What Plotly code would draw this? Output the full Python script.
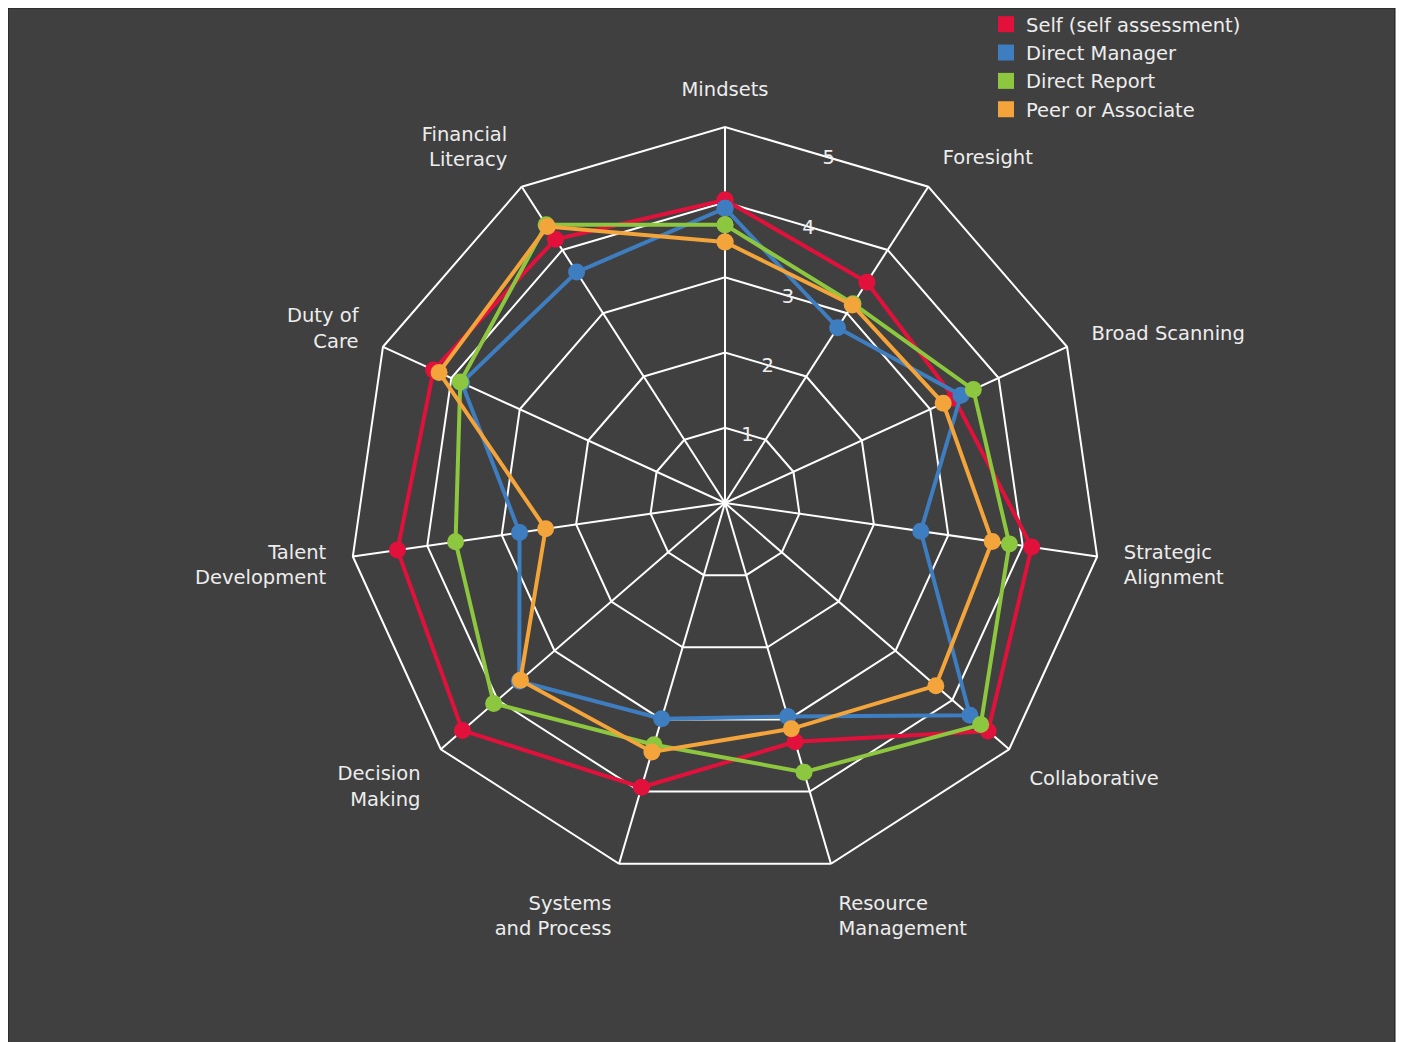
import math
import plotly.graph_objects as go

categories = ["Mindsets", "Foresight", "Broad Scanning", "Strategic Alignment", "Collaborative",
              "Resource Management", "Systems and Process", "Decision Making",
              "Talent Development", "Duty of Care", "Financial Literacy"]
tick_labels = ["Mindsets", "Foresight", "Broad Scanning", "Strategic<br>Alignment", "Collaborative",
               "Resource<br>Management", "Systems<br>and Process", "Decision<br>Making",
               "Talent<br>Development", "Duty of<br>Care", "Financial<br>Literacy"]

self_assessment = [4.03, 3.49, 3.35, 4.12, 4.63, 3.31, 3.94, 4.62, 4.40, 4.26, 4.17]
direct_manager = [3.92, 2.77, 3.45, 2.63, 4.31, 2.96, 2.99, 3.62, 2.76, 3.85, 3.65]
direct_report = [3.70, 3.15, 3.63, 3.82, 4.50, 3.73, 3.35, 4.07, 3.62, 3.87, 4.40]
peer_associate = [3.47, 3.13, 3.19, 3.59, 3.71, 3.13, 3.45, 3.60, 2.41, 4.18, 4.37]

series_names = ["Self (self assessment)", "Direct Manager", "Direct Report", "Peer or Associate"]
series_values = [self_assessment, direct_manager, direct_report, peer_associate]
colors = ["#E2113C", "#3E7EC0", "#8DC63F", "#F3A43B"]

radial_ticks = [1, 2, 3, 4, 5]
r_max = 5

BG = "#404040"
TXT = "#EDEDED"
FONT = "DejaVu Sans"
FS = 19.5

W, H = 1396, 1034
cx, cy, R = 717, 495, 376  # centre/radius in figure pixels

n = len(categories)
half_step = 180.0 / n
label_angle = 90 - half_step          # radial tick labels sit midway between first two spokes
r_scale = r_max / math.cos(math.radians(half_step))

fig = go.Figure()
for name, vals, col in zip(series_names, series_values, colors):
    fig.add_trace(go.Scatterpolar(
        r=vals + vals[:1], theta=categories + categories[:1],
        mode="lines+markers", name=name, showlegend=False,
        line=dict(color=col, width=4),
        marker=dict(color=col, size=17),
        hoverinfo="r+theta+name",
    ))
for name, col in zip(series_names, colors):
    fig.add_trace(go.Scatterpolar(
        r=[None], theta=[categories[0]], mode="markers", name=name,
        marker=dict(color=col, symbol="square", size=16),
        showlegend=True,
    ))
# helper subplot carrying the radial tick labels only
fig.add_trace(go.Scatterpolar(r=[0], theta=[0], mode="markers", subplot="polar2",
                              marker=dict(size=1, color="rgba(0,0,0,0)"),
                              showlegend=False, hoverinfo="skip"))

fig.add_shape(type="rect", xref="paper", yref="paper", x0=0, x1=1387/W,
              y0=-0.02, y1=1.0, fillcolor=BG, line=dict(color="#1a1a1a", width=1),
              layer="below")

dom_x = [(cx - R) / W, (cx + R) / W]
dom_y = [(H - cy - R) / H, (H - cy + R) / H]
# label subplot nudged so that the numbers sit on the ring edges
dx_lab, dy_lab = -14, 5
dom2_x = [(cx - R + dx_lab) / W, (cx + R + dx_lab) / W]
dom2_y = [(H - cy - R + dy_lab) / H, (H - cy + R + dy_lab) / H]

fig.update_layout(
    width=W, height=H,
    paper_bgcolor="white",
    margin=dict(l=0, r=0, t=0, b=0, autoexpand=False),
    font=dict(family=FONT, color=TXT, size=FS),
    polar=dict(
        bgcolor=BG,
        gridshape="linear",
        domain=dict(x=dom_x, y=dom_y),
        radialaxis=dict(
            range=[0, r_max], tickvals=radial_ticks,
            showline=False, showticklabels=False, ticks="",
            gridcolor="white", gridwidth=2,
        ),
        angularaxis=dict(
            direction="clockwise", rotation=90,
            categoryorder="array", categoryarray=categories,
            tickmode="array", tickvals=categories, ticktext=tick_labels,
            showline=True, linecolor="white", linewidth=2,
            gridcolor="white", gridwidth=2,
            ticks="outside", ticklen=22, tickcolor=BG,
            tickfont=dict(family=FONT, size=FS, color=TXT),
        ),
    ),
    polar2=dict(
        bgcolor="rgba(0,0,0,0)",
        domain=dict(x=dom2_x, y=dom2_y),
        radialaxis=dict(
            range=[0, r_scale], tickvals=radial_ticks, ticktext=[str(t) for t in radial_ticks],
            showline=False, showgrid=False, ticks="",
            angle=label_angle, tickangle=label_angle,
            tickfont=dict(family=FONT, size=FS, color=TXT),
        ),
        angularaxis=dict(visible=False, showgrid=False, showline=False),
    ),
    legend=dict(
        x=978/W, y=1 + 3/H, xanchor="left", yanchor="top",
        bgcolor="rgba(0,0,0,0)", font=dict(family=FONT, size=FS, color=TXT),
        tracegroupgap=0, itemsizing="trace",
    ),
)

fig.write_html("out.html")
